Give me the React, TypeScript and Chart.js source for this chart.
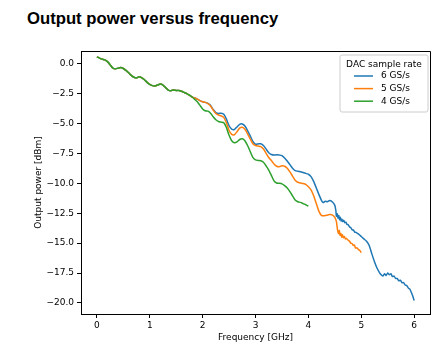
import React, { useEffect, useRef } from "react";
import { Chart, registerables } from "chart.js";

Chart.register(...registerables);

const titleText = "Output power versus frequency";
const xAxisTitle = "Frequency [GHz]";
const yAxisTitle = "Output power [dBm]";
const legendTitle = "DAC sample rate";
const seriesLabels = ["6 GS/s", "5 GS/s", "4 GS/s"];
const seriesColors = ["#1f77b4", "#ff7f0e", "#2ca02c"];

const xTickValues = [0, 1, 2, 3, 4, 5, 6];
const yTickValues = [-20, -17.5, -15, -12.5, -10, -7.5, -5, -2.5, 0];

// shared low-frequency part (all three rates coincide)
const commonFreq = [0.0, 0.05, 0.1, 0.15, 0.2, 0.25, 0.3, 0.35, 0.4, 0.45, 0.5, 0.55, 0.6, 0.65, 0.7, 0.75, 0.8, 0.85, 0.9, 0.95, 1.0, 1.05, 1.1, 1.15, 1.2, 1.25, 1.3, 1.35, 1.4, 1.45, 1.5, 1.55, 1.6, 1.65, 1.7, 1.75, 1.8];
const commonPower = [0.55, 0.45, 0.36, 0.3, 0.15, -0.1, -0.38, -0.45, -0.4, -0.34, -0.42, -0.58, -0.78, -1.0, -1.15, -1.2, -1.12, -1.2, -1.36, -1.58, -1.75, -1.85, -1.88, -1.8, -1.72, -1.8, -2.02, -2.22, -2.27, -2.22, -2.25, -2.25, -2.32, -2.42, -2.52, -2.65, -2.8];

const freq6 = [1.85, 1.9, 1.95, 2.0, 2.05, 2.1, 2.15, 2.2, 2.25, 2.3, 2.35, 2.4, 2.45, 2.5, 2.55, 2.6, 2.65, 2.7, 2.75, 2.8, 2.85, 2.9, 2.95, 3.0, 3.05, 3.1, 3.15, 3.2, 3.25, 3.3, 3.35, 3.4, 3.45, 3.5, 3.55, 3.6, 3.65, 3.7, 3.75, 3.8, 3.85, 3.9, 3.95, 4.0, 4.05, 4.1, 4.15, 4.2, 4.25, 4.28, 4.32, 4.36, 4.4, 4.45, 4.5, 4.52, 4.53, 4.545, 4.56, 4.575, 4.59, 4.605, 4.62, 4.635, 4.65, 4.67, 4.69, 4.71, 4.73, 4.75, 4.78, 4.8, 4.83, 4.85, 4.88, 4.9, 4.95, 5.0, 5.05, 5.1, 5.15, 5.2, 5.25, 5.3, 5.35, 5.38, 5.41, 5.44, 5.47, 5.5, 5.53, 5.56, 5.59, 5.62, 5.65, 5.68, 5.71, 5.74, 5.77, 5.8, 5.83, 5.86, 5.89, 5.92, 5.95, 5.98, 6.0];
const power6 = [-2.88, -2.98, -3.1, -3.2, -3.25, -3.33, -3.5, -3.85, -4.1, -4.18, -4.15, -4.25, -4.65, -5.2, -5.48, -5.52, -5.3, -5.08, -5.05, -5.22, -5.6, -6.05, -6.5, -6.75, -6.72, -6.7, -6.85, -7.15, -7.45, -7.6, -7.65, -7.62, -7.65, -7.7, -7.9, -8.15, -8.45, -8.75, -8.95, -9.0, -9.05, -9.1, -9.18, -9.25, -9.45, -9.85, -10.4, -10.95, -11.45, -11.62, -11.5, -11.55, -11.45, -11.55, -11.85, -12.3, -12.75, -12.55, -12.9, -12.7, -13.05, -12.85, -13.15, -13.0, -13.2, -13.1, -13.3, -13.25, -13.45, -13.45, -13.65, -13.7, -13.9, -13.9, -14.1, -14.1, -14.25, -14.45, -14.65, -14.85, -15.2, -15.9, -16.55, -17.1, -17.5, -17.65, -17.75, -17.55, -17.7, -17.5, -17.65, -17.55, -17.8, -17.75, -17.95, -17.95, -18.15, -18.1, -18.3, -18.3, -18.5, -18.55, -18.75, -18.85, -19.15, -19.5, -19.8];

const freq5 = [1.85, 1.9, 1.95, 2.0, 2.05, 2.1, 2.15, 2.2, 2.25, 2.3, 2.35, 2.4, 2.45, 2.5, 2.55, 2.6, 2.65, 2.7, 2.75, 2.8, 2.85, 2.9, 2.95, 3.0, 3.05, 3.1, 3.15, 3.2, 3.25, 3.3, 3.35, 3.4, 3.45, 3.5, 3.55, 3.6, 3.65, 3.7, 3.75, 3.8, 3.85, 3.9, 3.95, 4.0, 4.05, 4.1, 4.15, 4.2, 4.25, 4.3, 4.35, 4.4, 4.45, 4.5, 4.53, 4.55, 4.57, 4.585, 4.6, 4.615, 4.63, 4.645, 4.66, 4.68, 4.7, 4.72, 4.75, 4.78, 4.8, 4.83, 4.85, 4.87, 4.89, 4.92, 4.95, 4.97, 5.0];
const power5 = [-2.88, -2.98, -3.1, -3.2, -3.25, -3.35, -3.55, -3.9, -4.18, -4.3, -4.38, -4.5, -4.95, -5.6, -5.92, -5.95, -5.7, -5.4, -5.33, -5.5, -5.88, -6.3, -6.7, -6.85, -6.9, -6.95, -7.15, -7.5, -7.85, -8.1, -8.4, -8.58, -8.62, -8.55, -8.58, -8.75, -9.05, -9.4, -9.75, -9.92, -9.98, -10.02, -10.1, -10.3, -10.55, -11.05, -11.7, -12.35, -12.7, -12.72, -12.68, -12.62, -12.65, -12.85, -13.2, -13.85, -14.2, -13.95, -14.35, -14.2, -14.5, -14.3, -14.55, -14.45, -14.65, -14.6, -14.75, -14.85, -15.0, -15.05, -15.2, -15.15, -15.4, -15.4, -15.55, -15.6, -15.8];

const freq4 = [1.85, 1.9, 1.95, 2.0, 2.05, 2.1, 2.15, 2.2, 2.25, 2.3, 2.35, 2.4, 2.45, 2.5, 2.55, 2.6, 2.65, 2.7, 2.75, 2.8, 2.85, 2.9, 2.95, 3.0, 3.05, 3.1, 3.15, 3.2, 3.25, 3.3, 3.35, 3.4, 3.45, 3.5, 3.55, 3.6, 3.65, 3.7, 3.75, 3.8, 3.85, 3.9, 3.95, 4.0];
const power4 = [-3.0, -3.2, -3.5, -3.8, -3.95, -3.98, -4.15, -4.45, -4.7, -4.85, -4.9, -4.95, -5.35, -6.0, -6.45, -6.62, -6.55, -6.35, -6.28, -6.45, -6.85, -7.35, -7.85, -8.05, -8.1, -8.12, -8.25, -8.55, -8.9, -9.35, -9.8, -9.98, -10.0, -10.05, -10.2, -10.4, -10.7, -11.05, -11.4, -11.55, -11.6, -11.7, -11.8, -11.92];

const X_MIN = -0.3;
const X_MAX = 6.3;
const Y_MIN = -20.92;
const Y_MAX = 1.04;

const buildPoints = (fx: number[], py: number[]) => {
  const pts = commonFreq.map((f, i) => ({ x: f, y: commonPower[i] }));
  fx.forEach((f, i) => pts.push({ x: f, y: py[i] }));
  return pts;
};

const FONT = "'DejaVu Sans', sans-serif";

const fmtY = (v: number) => (v < 0 ? "\u2212" : "") + Math.abs(v).toFixed(1);

const frameAndLegend = {
  id: "frameAndLegend",
  afterDraw(chart: any) {
    const { ctx, chartArea } = chart;
    const { left, top, right, bottom } = chartArea;
    ctx.save();
    ctx.strokeStyle = "#000";
    ctx.lineWidth = 1;
    ctx.beginPath();
    ctx.moveTo(left, top + 0.5);
    ctx.lineTo(right + 0.5, top + 0.5);
    ctx.lineTo(right + 0.5, bottom);
    ctx.stroke();

    // legend box (upper right, inside axes)
    const bw = 88;
    const bh = 57;
    const bx = right - 2 - bw;
    const by = top + 4;
    const r = 2;
    ctx.beginPath();
    ctx.moveTo(bx + r, by);
    ctx.lineTo(bx + bw - r, by);
    ctx.quadraticCurveTo(bx + bw, by, bx + bw, by + r);
    ctx.lineTo(bx + bw, by + bh - r);
    ctx.quadraticCurveTo(bx + bw, by + bh, bx + bw - r, by + bh);
    ctx.lineTo(bx + r, by + bh);
    ctx.quadraticCurveTo(bx, by + bh, bx, by + bh - r);
    ctx.lineTo(bx, by + r);
    ctx.quadraticCurveTo(bx, by, bx + r, by);
    ctx.closePath();
    ctx.fillStyle = "rgba(255,255,255,0.8)";
    ctx.fill();
    ctx.strokeStyle = "#cccccc";
    ctx.lineWidth = 1;
    ctx.stroke();

    ctx.fillStyle = "#000";
    ctx.font = "9px " + FONT;
    ctx.textBaseline = "middle";
    ctx.textAlign = "center";
    ctx.fillText(legendTitle, bx + bw / 2, by + 10);
    ctx.textAlign = "left";
    seriesLabels.forEach((lab, i) => {
      const y = by + 21 + i * 12.6;
      ctx.strokeStyle = seriesColors[i];
      ctx.lineWidth = 1.5;
      ctx.beginPath();
      ctx.moveTo(bx + 14, y);
      ctx.lineTo(bx + 33, y);
      ctx.stroke();
      ctx.fillStyle = "#000";
      ctx.fillText(lab, bx + 41, y);
    });
    ctx.restore();
  },
};

export default function App() {
  const canvasRef = useRef<HTMLCanvasElement | null>(null);

  useEffect(() => {
    if (!canvasRef.current) return;
    const datasets = [
      { label: seriesLabels[0], data: buildPoints(freq6, power6), color: seriesColors[0], order: 2 },
      { label: seriesLabels[1], data: buildPoints(freq5, power5), color: seriesColors[1], order: 1 },
      { label: seriesLabels[2], data: buildPoints(freq4, power4), color: seriesColors[2], order: 0 },
    ].map((d) => ({
      label: d.label,
      data: d.data,
      borderColor: d.color,
      backgroundColor: d.color,
      borderWidth: 1.5,
      pointRadius: 0,
      tension: 0.2,
      fill: false,
      order: d.order,
    }));

    const chart = new Chart(canvasRef.current, {
      type: "line",
      data: { datasets },
      options: {
        animation: false,
        responsive: false,
        maintainAspectRatio: false,
        devicePixelRatio: 1,
        layout: { padding: { left: 0, top: 51, right: 17, bottom: 0 } },
        plugins: {
          legend: { display: false },
          tooltip: { enabled: false },
          title: { display: false },
        },
        scales: {
          x: {
            type: "linear",
            min: X_MIN,
            max: X_MAX,
            afterBuildTicks: (scale: any) => {
              scale.ticks = xTickValues.map((v) => ({ value: v }));
            },
            afterFit: (scale: any) => {
              scale.height = 36;
            },
            grid: {
              display: true,
              drawOnChartArea: false,
              drawTicks: true,
              tickLength: 4,
              tickColor: "#000",
              tickWidth: 1,
            },
            border: { display: true, color: "#000", width: 1 },
            ticks: {
              color: "#000",
              font: { family: FONT, size: 9 },
              padding: 2,
              maxRotation: 0,
              autoSkip: false,
              callback: (v: any) => String(v),
            },
            title: {
              display: true,
              text: xAxisTitle,
              color: "#000",
              font: { family: FONT, size: 9 },
              padding: { top: 0, bottom: 7 },
            },
          },
          y: {
            type: "linear",
            min: Y_MIN,
            max: Y_MAX,
            afterBuildTicks: (scale: any) => {
              scale.ticks = yTickValues.map((v) => ({ value: v }));
            },
            afterFit: (scale: any) => {
              scale.width = 81;
            },
            grid: {
              display: true,
              drawOnChartArea: false,
              drawTicks: true,
              tickLength: 4,
              tickColor: "#000",
              tickWidth: 1,
            },
            border: { display: true, color: "#000", width: 1 },
            ticks: {
              color: "#000",
              font: { family: FONT, size: 9 },
              padding: 3,
              autoSkip: false,
              callback: (v: any) => fmtY(Number(v)),
            },
            title: {
              display: true,
              text: yAxisTitle,
              color: "#000",
              font: { family: FONT, size: 9 },
              padding: { top: 33, bottom: 0 },
            },
          },
        },
      },
      plugins: [frameAndLegend],
    });
    return () => chart.destroy();
  }, []);

  return (
    <div style={{ position: "fixed", left: 0, top: 0, width: 447, height: 350, background: "#fff" }}>
      <div
        style={{
          position: "absolute",
          left: 27,
          top: 8.7,
          fontFamily: "'Liberation Sans', Arial, sans-serif",
          fontWeight: "bold",
          fontSize: 16.7,
          lineHeight: "20px",
          color: "#000",
          whiteSpace: "nowrap",
        }}
      >
        {titleText}
      </div>
      <canvas
        ref={canvasRef}
        width={447}
        height={350}
        style={{ position: "absolute", left: 0, top: 0, width: 447, height: 350 }}
      />
    </div>
  );
}
